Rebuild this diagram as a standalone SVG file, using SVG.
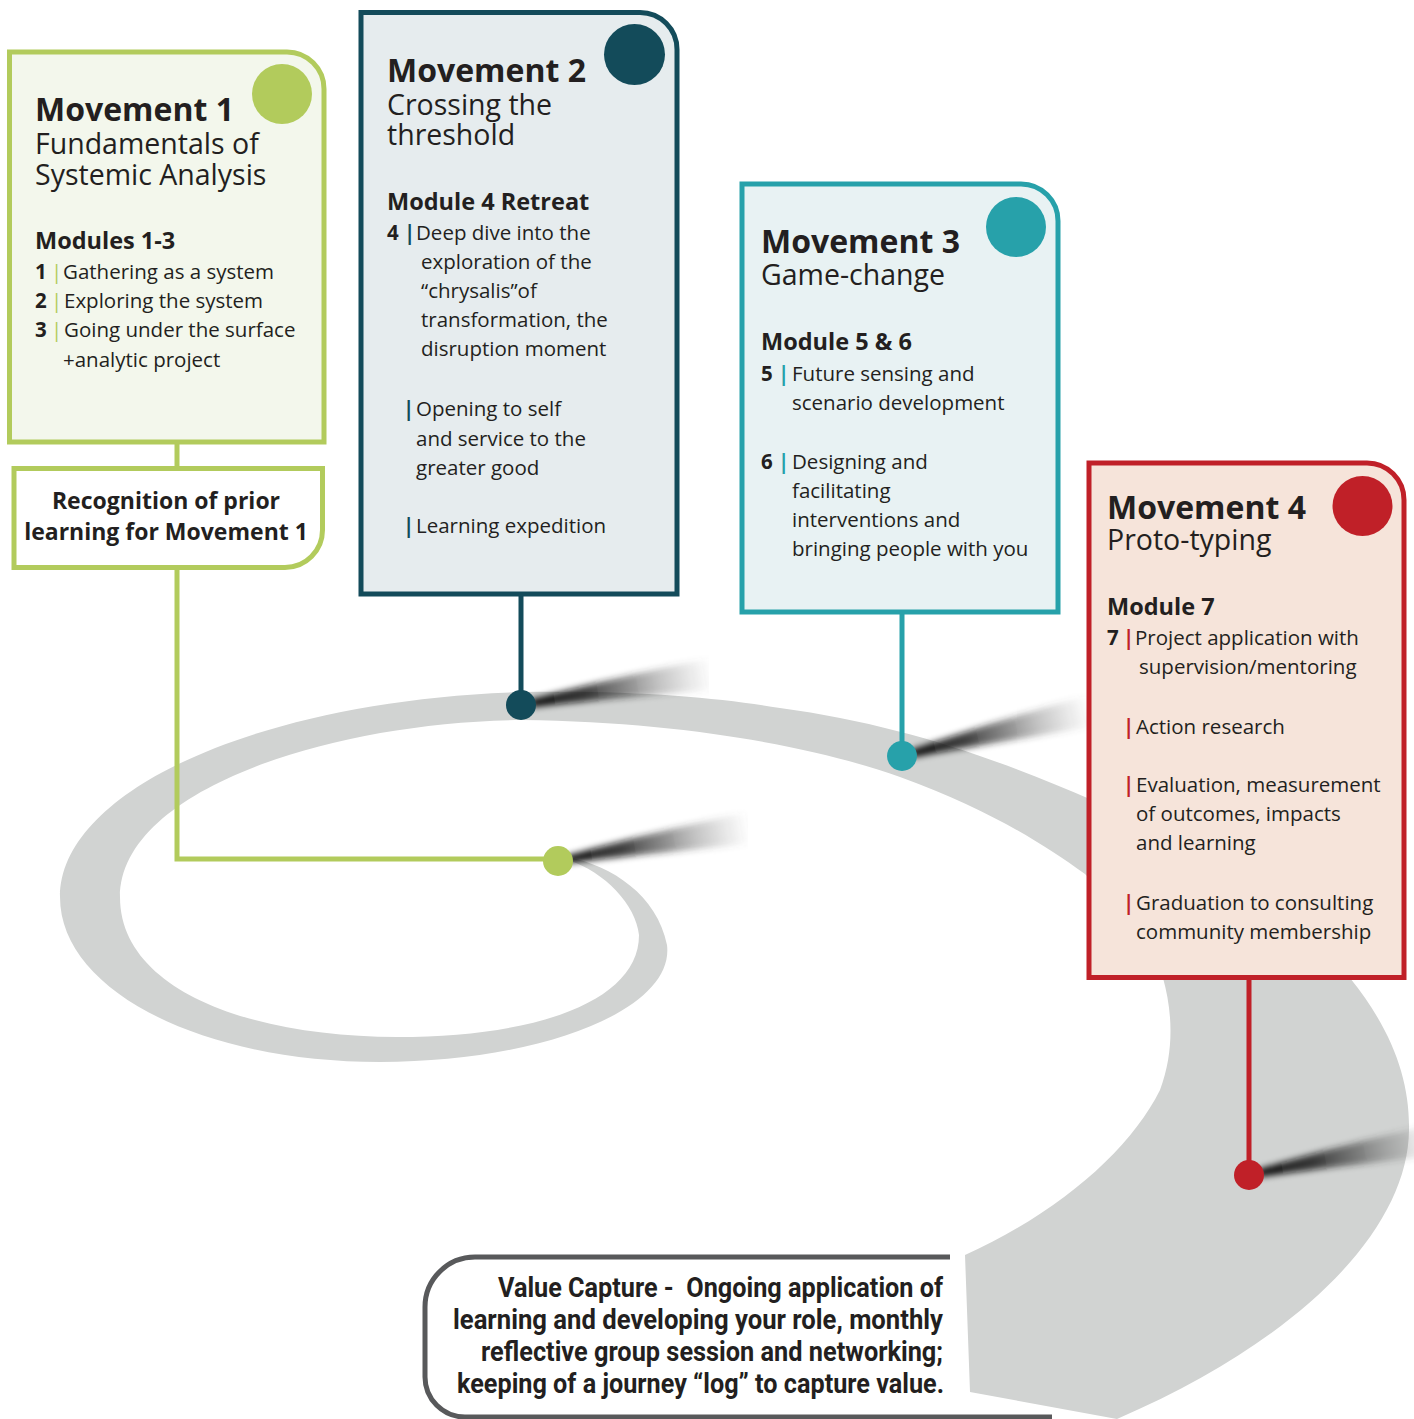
<svg xmlns="http://www.w3.org/2000/svg" width="1414" height="1419" viewBox="0 0 1414 1419">
<defs>
<style>
text{font-family:"Open Sans","Noto Sans",sans-serif;fill:#231f20}
.h{font-size:32px;font-weight:700}
.s{font-size:28.5px;font-weight:400}
.m{font-size:23.5px;font-weight:700}
.t{font-size:20.5px}
.n{font-weight:700}
.rc{font-size:23px;font-weight:700;text-anchor:middle}
.v{font-family:"Liberation Sans Narrow","Roboto",sans-serif;font-size:27px;font-weight:700}
.g{fill:#b2cb5c}.d{fill:#134b5a;font-weight:700}.c{fill:#27a1aa;font-weight:700}.r{fill:#c02028;font-weight:700}
.box{stroke-width:5}
.ln{fill:none;stroke-width:5}
.sh{fill:url(#shg);filter:url(#blur)}
</style>
<linearGradient id="shg" x1="0" y1="0" x2="1" y2="0">
<stop offset="0" stop-color="#000" stop-opacity="0.95"/>
<stop offset="0.3" stop-color="#111" stop-opacity="0.8"/>
<stop offset="0.7" stop-color="#333" stop-opacity="0.3"/>
<stop offset="1" stop-color="#666" stop-opacity="0"/>
</linearGradient>
<filter id="blur" x="-20%" y="-100%" width="140%" height="300%"><feGaussianBlur stdDeviation="3"/></filter>
<clipPath id="c1"><rect x="0" y="0" width="748" height="1419"/></clipPath>
<clipPath id="c2"><rect x="0" y="0" width="709" height="1419"/></clipPath>
<clipPath id="c3"><rect x="0" y="0" width="1087" height="1419"/></clipPath>
<path id="shp" d="M 10,-4 C 70,-10 140,-15 195,-16 L 195,15 C 140,12 70,6 10,4 Z"/>
</defs>

<g id="spiral">
<path fill="#d1d3d2" d="M 568,857 C 612,866 657,895 667,945 C 675,1010 540,1062 380,1062 C 200,1062 60,990 60,897 C 60,790 260,700 522,692 C 640,690 720,698 780,708 C 900,724 1000,760 1092,800 L 1300,880 L 1350,978 C 1392,1030 1410,1080 1409,1130 C 1408,1230 1300,1340 1117,1419 L 970,1392 L 965,1255 C 1060,1212 1130,1150 1160,1090 C 1175,1050 1172,1010 1163,978 L 1100,890 L 1085,874 C 1040,842 990,810 900,777 C 830,752 700,722 522,720 C 330,722 120,790 120,897 C 120,990 250,1037 397,1037 C 540,1037 639,1000 639,935 C 636,905 605,872 568,860 Z"/>
</g>

<g id="connectors">
<g clip-path="url(#c1)"><use href="#shp" class="sh" transform="translate(558,861) rotate(-9.6)"/></g>
<g clip-path="url(#c2)"><use href="#shp" class="sh" transform="translate(521,705) rotate(-9)"/></g>
<g clip-path="url(#c3)"><use href="#shp" class="sh" transform="translate(902,756) rotate(-13.2)"/></g>
<use href="#shp" class="sh" transform="translate(1249,1175) rotate(-10.5)"/>
<path class="ln" stroke="#b2cb5c" d="M 177,442 V 468 M 177,567 V 859 H 558"/>
<path class="ln" stroke="#134b5a" d="M 521,594 V 705"/>
<path class="ln" stroke="#27a1aa" d="M 902,612 V 756"/>
<path class="ln" stroke="#c02028" d="M 1249,977 V 1175"/>
<circle cx="558" cy="861" r="15" fill="#b2cb5c"/>
<circle cx="521" cy="705" r="15" fill="#134b5a"/>
<circle cx="902" cy="756" r="15" fill="#27a1aa"/>
<circle cx="1249" cy="1175" r="15" fill="#c02028"/>
</g>

<g id="movement1">
<path class="box" fill="#f3f7ec" stroke="#b2cb5c" d="M 9.5,52 H 287 A 37 37 0 0 1 324,89 V 442 H 9.5 Z"/>
<circle cx="282" cy="94" r="30" fill="#b2cb5c"/>
<text class="h"><tspan x="35" y="121">Movement 1</tspan><tspan class="s" x="35" y="154">Fundamentals of</tspan><tspan class="s" x="35" y="185">Systemic Analysis</tspan></text>
<text class="t"><tspan class="m" x="35" y="249">Modules 1-3</tspan><tspan class="n" x="35" y="279">1</tspan><tspan class="g" x="51">|</tspan><tspan x="63">Gathering as a system</tspan><tspan class="n" x="35" y="308">2</tspan><tspan class="g" x="51">|</tspan><tspan x="64">Exploring the system</tspan><tspan class="n" x="35" y="337">3</tspan><tspan class="g" x="51">|</tspan><tspan x="64">Going under the surface</tspan><tspan x="63" y="367">+analytic project</tspan></text>
</g>

<g id="recognition">
<path class="box" fill="#ffffff" stroke="#b2cb5c" d="M 14,468.5 H 322.5 V 530 A 37.5 37.5 0 0 1 285,567.5 H 14 Z"/>
<text class="rc"><tspan x="166" y="509">Recognition of prior</tspan><tspan x="166" y="540">learning for Movement 1</tspan></text>
</g>

<g id="movement2">
<path class="box" fill="#e6ecee" stroke="#134b5a" d="M 361,12.5 H 640 A 37 37 0 0 1 677,49.5 V 594 H 361 Z"/>
<circle cx="634.5" cy="54.5" r="30.5" fill="#134b5a"/>
<text class="h"><tspan x="387" y="82">Movement 2</tspan><tspan class="s" x="387" y="115">Crossing the</tspan><tspan class="s" x="387" y="145">threshold</tspan></text>
<text class="t"><tspan class="m" x="387" y="210">Module 4 Retreat</tspan><tspan class="n" x="387" y="240">4</tspan><tspan class="d" x="404">|</tspan><tspan x="416">Deep dive into the</tspan><tspan x="421" y="269">exploration of the</tspan><tspan x="421" y="298">“chrysalis”of</tspan><tspan x="421" y="327">transformation, the</tspan><tspan x="421" y="356">disruption moment</tspan><tspan class="d" x="403" y="416">|</tspan><tspan x="416">Opening to self</tspan><tspan x="416" y="446">and service to the</tspan><tspan x="416" y="475">greater good</tspan><tspan class="d" x="403" y="533">|</tspan><tspan x="416">Learning expedition</tspan></text>
</g>

<g id="movement3">
<path class="box" fill="#e8f2f3" stroke="#27a1aa" d="M 742,184 H 1021 A 37 37 0 0 1 1058,221 V 612 H 742 Z"/>
<circle cx="1016" cy="227" r="30" fill="#27a1aa"/>
<text class="h"><tspan x="761" y="253">Movement 3</tspan><tspan class="s" x="761" y="285">Game-change</tspan></text>
<text class="t"><tspan class="m" x="761" y="350">Module 5 &amp; 6</tspan><tspan class="n" x="761" y="381">5</tspan><tspan class="c" x="778">|</tspan><tspan x="792">Future sensing and</tspan><tspan x="792" y="409.5">scenario development</tspan><tspan class="n" x="761" y="468.5">6</tspan><tspan class="c" x="778">|</tspan><tspan x="792">Designing and</tspan><tspan x="792" y="497.5">facilitating</tspan><tspan x="792" y="526.5">interventions and</tspan><tspan x="792" y="556">bringing people with you</tspan></text>
</g>

<g id="movement4">
<path class="box" fill="#f6e4da" stroke="#c02028" d="M 1089,463 H 1367 A 37 37 0 0 1 1404,500 V 977.5 H 1089 Z"/>
<circle cx="1362.5" cy="506" r="30" fill="#c02028"/>
<text class="h"><tspan x="1107" y="519">Movement 4</tspan><tspan class="s" x="1107" y="550">Proto-typing</tspan></text>
<text class="t"><tspan class="m" x="1107" y="615">Module 7</tspan><tspan class="n" x="1107" y="645">7</tspan><tspan class="r" x="1123">|</tspan><tspan x="1135">Project application with</tspan><tspan x="1139" y="674">supervision/mentoring</tspan><tspan class="r" x="1123" y="733.5">|</tspan><tspan x="1136">Action research</tspan><tspan class="r" x="1123" y="791.5">|</tspan><tspan x="1136">Evaluation, measurement</tspan><tspan x="1136" y="821">of outcomes, impacts</tspan><tspan x="1136" y="850">and learning</tspan><tspan class="r" x="1123" y="910">|</tspan><tspan x="1136">Graduation to consulting</tspan><tspan x="1136" y="939">community membership</tspan></text>
</g>

<g id="value-capture">
<path fill="#ffffff" d="M 950,1257 H 475 A 50 50 0 0 0 425,1307 V 1377 A 40 40 0 0 0 465,1417 H 960 V 1257 Z"/>
<path fill="none" stroke="#58595b" stroke-width="5" d="M 950,1257 H 475 A 50 50 0 0 0 425,1307 V 1377 A 40 40 0 0 0 465,1417 H 1052"/>
<text class="v"><tspan x="498" y="1297" textLength="445" lengthAdjust="spacingAndGlyphs">Value Capture -&#160; Ongoing application of</tspan><tspan x="453" y="1329" textLength="490" lengthAdjust="spacingAndGlyphs">learning and developing your role, monthly</tspan><tspan x="481" y="1361" textLength="462" lengthAdjust="spacingAndGlyphs">reflective group session and networking;</tspan><tspan x="457" y="1393" textLength="487" lengthAdjust="spacingAndGlyphs">keeping of a journey “log” to capture value.</tspan></text>
</g>
</svg>
